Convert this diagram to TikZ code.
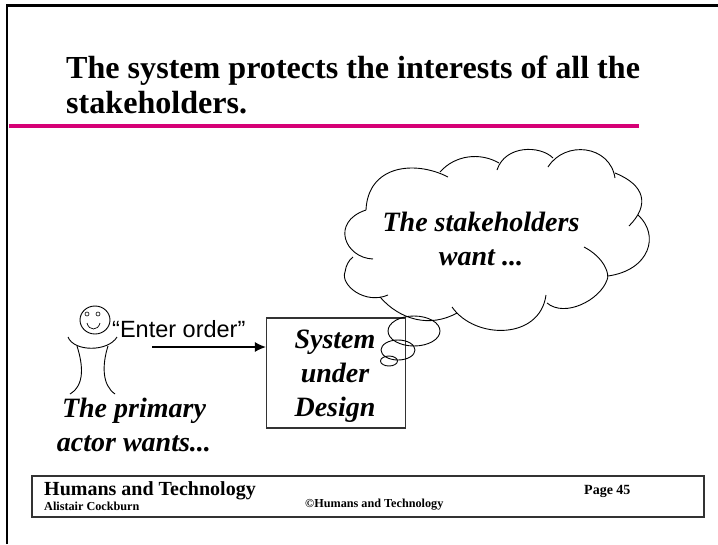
\documentclass[tikz,border=0pt]{standalone}
\usepackage{fontspec}
\setmainfont{Liberation Serif}
\newfontfamily\arialfont{Liberation Sans}
\usetikzlibrary{shapes.geometric, arrows.meta, positioning}
\definecolor{slidepink}{RGB}{214,0,118}

\begin{document}
\begin{tikzpicture}[
        x=1pt, y=-1pt,
        title/.style={font=\bfseries\fontsize{32.1}{35}\selectfont, align=left, inner sep=0pt},
        caption/.style={font=\bfseries\itshape\fontsize{28}{34}\selectfont, align=center, inner sep=0pt},
        small/.style={font=\bfseries\fontsize{12.2}{14}\selectfont, inner sep=0pt},
        box/.style={rectangle, draw, line width=1.2pt, black!80},
        sketch/.style={draw, line width=0.9pt},
        line/.style={draw, line width=1.3pt, -{Latex[length=11pt,width=10pt]}}
    ]
        \useasboundingbox (0,0) rectangle (718,544);

        % Frame and Title
        \draw [line width=2.5pt] (7,544) -- (7,5.5) -- (718,5.5);
        \node [title, anchor=north west] (title_text) at (66,56) {The system protects the interests of all the\\stakeholders.};
        \fill [slidepink] (9,124) rectangle (639,128);

        % System
        \node [box, minimum width=139pt, minimum height=110pt] (system_box) at (336,373) {};
        \node [caption] (system_text) at (335,376) {System\\under\\Design};

        % Actor
        \node [sketch, ellipse, minimum width=30pt, minimum height=28pt, inner sep=0pt] (actor_head) at (95,320) {};
        \node [sketch, circle, minimum size=4pt, inner sep=0pt, line width=0.6pt] (actor_eye_l) at (87,314) {};
        \node [sketch, circle, minimum size=4pt, inner sep=0pt, line width=0.6pt] (actor_eye_r) at (98,314) {};
        \draw [sketch, line width=0.7pt] (87,323) .. controls (89,331) and (98,331) .. (100,323);
        \draw [sketch] (68,337) .. controls (74,352) and (108,352) .. (117,337);
        \draw [sketch] (77,346) .. controls (83,365) and (85,385) .. (70,394);
        \draw [sketch] (108,346) .. controls (102,365) and (102,385) .. (115,394);
        \node [caption] (actor_text) at (134,425) {The primary\\actor wants...};

        % Request
        \node [font=\arialfont\fontsize{23.5}{28}\selectfont, inner sep=0pt, anchor=base west] (request_text) at (112,337) {“Enter order”};
        \coordinate (request_start) at (152,347);
        \path [line] (request_start) -- (request_start -| system_box.west);

        % Cloud
        \draw [sketch] (448,177) .. controls (415,160) and (368,165) .. (366,210);
        \draw [sketch] (440,172) .. controls (455,155) and (480,152) .. (499,163);
        \draw [sketch] (497,170) .. controls (505,145) and (540,145) .. (553,158);
        \draw [sketch] (548,167) .. controls (565,140) and (610,145) .. (615,178);
        \draw [sketch] (615,173) .. controls (645,185) and (650,205) .. (629,226);
        \draw [sketch] (638,215) .. controls (660,235) and (650,270) .. (608,276);
        \draw [sketch] (584,247) .. controls (605,258) and (610,275) .. (607,280) .. controls (600,300) and (565,318) .. (547,303);
        \draw [sketch] (546,295) .. controls (540,340) and (475,340) .. (452,307);
        \draw [sketch] (457,313) .. controls (430,328) and (400,320) .. (380,297);
        \draw [sketch] (388,295) .. controls (365,305) and (340,285) .. (345,272) .. controls (346,265) and (349,260) .. (353,257);
        \draw [sketch] (373,259) .. controls (345,258) and (330,222) .. (366,210);
        \node [caption] (cloud_text) at (481,239) {The stakeholders\\want ...};

        % Thought bubbles
        \node [sketch, ellipse, minimum width=52pt, minimum height=30pt, inner sep=0pt] (bubble_large) at (414,331) {};
        \node [sketch, ellipse, minimum width=34pt, minimum height=20pt, inner sep=0pt] (bubble_medium) at (398,350) {};
        \node [sketch, ellipse, minimum width=17pt, minimum height=10pt, inner sep=0pt] (bubble_small) at (389,361) {};

        % Footer
        \node [box, minimum width=672pt, minimum height=41pt] (footer_box) at (368,496.5) {};
        \node [font=\bfseries\fontsize{20}{24}\selectfont, inner sep=0pt, anchor=base west] (footer_org) at (44,495) {Humans and Technology};
        \node [small, anchor=base west] (footer_author) at (44,510) {Alistair Cockburn};
        \node [small, anchor=base west] (footer_copyright) at (305,507) {©Humans and Technology};
        \node [font=\bfseries\fontsize{14}{16}\selectfont, inner sep=0pt, anchor=base west] (footer_page) at (584,494) {Page 45};
    \end{tikzpicture}
\end{document}
